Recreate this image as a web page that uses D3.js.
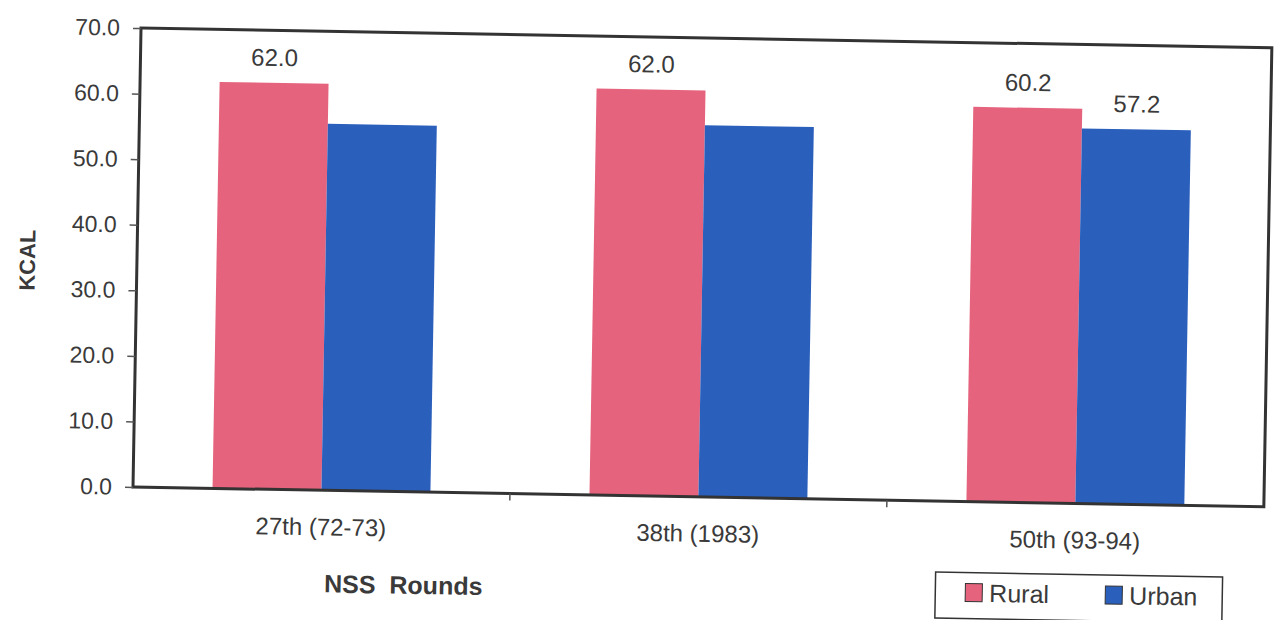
<!DOCTYPE html>
<meta charset="utf-8">
<style>
  body { margin: 0; background: #fff; }
  text { font-family: "Liberation Sans", Arial, sans-serif; fill: #3a3a3a; }
</style>
<svg width="1276" height="620"></svg>
<script src="https://cdn.jsdelivr.net/npm/d3@7/dist/d3.min.js"></script>
<script>

var rounds = ["27th (72-73)", "38th (1983)", "50th (93-94)"];
var series = ["Rural", "Urban"];
var rural = [62.0, 62.0, 60.2];
var urban = [55.9, 56.7, 57.2];
var yTicks = [0, 10, 20, 30, 40, 50, 60, 70];
// which bars carry a value label in the original (rural, urban)
var labelled = [[true, false], [true, false], [true, true]];

var colors = { Rural: "#e5637c", Urban: "#2a5fbc" };

var svg = d3.select("svg");
var plotL = 133, plotR = 1264, plotT = 28, plotB = 487;

// the original is a slightly tilted scan
var g = svg.append("g").attr("transform", "rotate(1.0," + plotL + "," + plotB + ")");

var x0 = d3.scaleBand().domain(rounds).range([plotL, plotR])
    .paddingInner(0.422).paddingOuter(0.211);
var x1 = d3.scaleBand().domain(series).range([0, x0.bandwidth()]);
var y = d3.scaleLinear().domain([0, 70]).range([plotB, plotT]);

var rows = rounds.map(function(r, i) {
  return { round: r, values: [
    { key: "Rural", value: rural[i], label: labelled[i][0] },
    { key: "Urban", value: urban[i], label: labelled[i][1] }
  ]};
});

// bars
var grp = g.selectAll(".grp").data(rows).enter().append("g")
    .attr("transform", function(d) { return "translate(" + x0(d.round) + ",0)"; });

grp.selectAll("rect").data(function(d) { return d.values; }).enter().append("rect")
    .attr("x", function(d) { return x1(d.key); })
    .attr("y", function(d) { return y(d.value); })
    .attr("width", x1.bandwidth())
    .attr("height", function(d) { return y(0) - y(d.value); })
    .attr("fill", function(d) { return colors[d.key]; });

grp.selectAll(".val").data(function(d) { return d.values.filter(function(v) { return v.label; }); })
  .enter().append("text")
    .attr("x", function(d) { return x1(d.key) + x1.bandwidth() / 2; })
    .attr("y", function(d) { return y(d.value) - 17; })
    .attr("text-anchor", "middle")
    .style("font-size", "24px")
    .text(function(d) { return d3.format(".1f")(d.value); });

// plot frame
g.append("rect")
    .attr("x", plotL).attr("y", plotT)
    .attr("width", plotR - plotL).attr("height", plotB - plotT)
    .attr("fill", "none").attr("stroke", "#333").attr("stroke-width", 3);

// y axis
var yAxis = g.append("g").attr("transform", "translate(" + plotL + ",0)")
    .call(d3.axisLeft(y).tickValues(yTicks).tickFormat(d3.format(".1f"))
      .tickSize(8).tickPadding(13));
yAxis.select(".domain").remove();
yAxis.selectAll("line").attr("stroke", "#555").attr("stroke-width", 1.5);
yAxis.selectAll("text").style("font-size", "23px")
    .style("font-family", "'Liberation Sans', Arial, sans-serif").attr("fill", "#3a3a3a");

// category separators below the x axis
var seps = rounds.slice(1).map(function(r) { return x0(r) - x0.step() * x0.paddingInner() / 2; });
g.selectAll(".sep").data(seps).enter().append("line")
    .attr("x1", function(d) { return d; }).attr("x2", function(d) { return d; })
    .attr("y1", plotB).attr("y2", plotB + 7)
    .attr("stroke", "#555").attr("stroke-width", 1.5);

// category labels
g.selectAll(".cat").data(rounds).enter().append("text")
    .attr("x", function(d) { return x0(d) + x0.bandwidth() / 2; })
    .attr("y", plotB + 45)
    .attr("text-anchor", "middle")
    .style("font-size", "24px")
    .text(function(d) { return d; });

// axis titles
g.append("text")
    .attr("x", 405).attr("y", 589)
    .attr("text-anchor", "middle")
    .style("font-size", "25px").style("font-weight", "bold")
    .style("white-space", "pre")
    .text("NSS  Rounds");

g.append("text")
    .attr("transform", "translate(31,262) rotate(-90)")
    .attr("text-anchor", "middle")
    .style("font-size", "22px").style("font-weight", "bold")
    .text("KCAL");

// legend
var lg = g.append("g").attr("transform", "translate(937,558)");
lg.append("rect").attr("width", 287).attr("height", 46)
    .attr("fill", "none").attr("stroke", "#333").attr("stroke-width", 1.5);
var item = lg.selectAll(".item").data(series).enter().append("g")
    .attr("transform", function(d, i) { return "translate(" + (30 + i * 140) + ",11)"; });
item.append("rect").attr("width", 17).attr("height", 18)
    .attr("fill", function(d) { return colors[d]; })
    .attr("stroke", "#333").attr("stroke-width", 1);
item.append("text").attr("x", 24).attr("y", 9).attr("dy", "0.36em")
    .style("font-size", "25px")
    .text(function(d) { return d; });

</script>
